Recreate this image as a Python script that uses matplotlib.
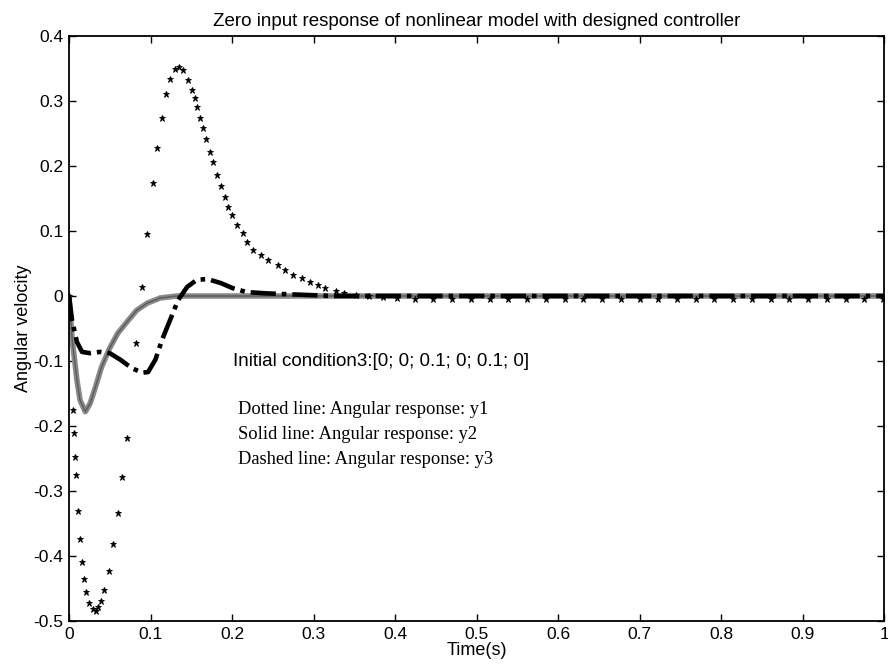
import matplotlib
matplotlib.use("Agg")
import matplotlib.pyplot as plt

# y1: dotted (star markers)
t1 = [0.0, 0.005, 0.006, 0.0074, 0.0086, 0.011, 0.0135, 0.016, 0.018, 0.021,
      0.0246, 0.029, 0.033, 0.036, 0.039, 0.043, 0.049, 0.054, 0.060, 0.065,
      0.071, 0.082, 0.090, 0.096, 0.103, 0.108, 0.114, 0.119, 0.124, 0.130,
      0.135, 0.140, 0.146, 0.151, 0.155, 0.157, 0.161, 0.165, 0.168, 0.173,
      0.177, 0.182, 0.187, 0.192, 0.195, 0.200, 0.206, 0.213, 0.219, 0.226,
      0.235, 0.244, 0.256, 0.265, 0.275, 0.286, 0.296, 0.305, 0.314, 0.327,
      0.337, 0.352, 0.368, 0.385, 0.402, 0.425, 0.447, 0.470, 0.493, 0.516,
      0.539, 0.562, 0.585, 0.608, 0.631, 0.654, 0.677, 0.700, 0.723, 0.746,
      0.769, 0.792, 0.815, 0.838, 0.861, 0.884, 0.907, 0.930, 0.953, 0.976,
      0.999]
y1 = [0.0, -0.175, -0.211, -0.248, -0.275, -0.331, -0.374, -0.409, -0.435, -0.455,
      -0.472, -0.482, -0.485, -0.478, -0.469, -0.452, -0.423, -0.382, -0.334, -0.278,
      -0.218, -0.072, 0.014, 0.095, 0.174, 0.228, 0.274, 0.311, 0.334, 0.349,
      0.352, 0.348, 0.332, 0.317, 0.305, 0.291, 0.274, 0.258, 0.242, 0.222,
      0.206, 0.186, 0.169, 0.152, 0.137, 0.125, 0.109, 0.097, 0.083, 0.071,
      0.063, 0.055, 0.048, 0.040, 0.032, 0.028, 0.022, 0.017, 0.012, 0.008,
      0.005, 0.002, 0.0, -0.002, -0.003, -0.004, -0.004, -0.004, -0.004, -0.004,
      -0.004, -0.004, -0.004, -0.004, -0.004, -0.004, -0.004, -0.004, -0.004, -0.004,
      -0.004, -0.004, -0.004, -0.004, -0.004, -0.004, -0.004, -0.004, -0.004, -0.004,
      -0.004]

# y2: solid
t2 = [0.0, 0.004, 0.0098, 0.0135, 0.020, 0.026, 0.032, 0.040, 0.050, 0.060,
      0.071, 0.083, 0.096, 0.112, 0.132, 0.2, 0.5, 1.0]
y2 = [0.0, -0.068, -0.130, -0.160, -0.178, -0.165, -0.142, -0.109, -0.080, -0.057,
      -0.040, -0.022, -0.011, -0.003, 0.0, 0.0, 0.0, 0.0]

# y3: dashed
t3 = [0.0, 0.0037, 0.0098, 0.016, 0.026, 0.038, 0.050, 0.063, 0.077, 0.090,
      0.097, 0.106, 0.114, 0.124, 0.134, 0.145, 0.157, 0.170, 0.186, 0.201,
      0.218, 0.243, 0.284, 0.324, 0.5, 1.0]
y3 = [0.0, -0.037, -0.071, -0.086, -0.088, -0.086, -0.088, -0.098, -0.111, -0.118,
      -0.117, -0.098, -0.068, -0.037, -0.006, 0.014, 0.025, 0.026, 0.020, 0.012,
      0.006, 0.004, 0.002, 0.0, 0.0, 0.0]

xticks = [0, 0.1, 0.2, 0.3, 0.4, 0.5, 0.6, 0.7, 0.8, 0.9, 1]
xticklabels = ["0", "0.1", "0.2", "0.3", "0.4", "0.5", "0.6", "0.7", "0.8", "0.9", "1"]
yticks = [-0.5, -0.4, -0.3, -0.2, -0.1, 0, 0.1, 0.2, 0.3, 0.4]
yticklabels = ["-0.5", "-0.4", "-0.3", "-0.2", "-0.1", "0", "0.1", "0.2", "0.3", "0.4"]

notes = ["Dotted line: Angular response: y1",
         "Solid line: Angular response: y2",
         "Dashed line: Angular response: y3"]

plt.rcParams["font.family"] = "Liberation Sans"

fig = plt.figure(figsize=(8.88, 6.70), dpi=100)
ax = fig.add_axes([69 / 888, 49 / 670, 815 / 888, 585 / 670])

ax.plot(t2, y2, color="#8a8a8a", linewidth=4, solid_capstyle="round", zorder=2)
ax.plot(t2, y2, color="#5a5a5a", linewidth=1, zorder=2)
ax.plot(t3, y3, color="black", linewidth=3.3, linestyle=(0, (5.5, 1.3, 1, 1.3)), zorder=3)
ax.plot(t1, y1, linestyle="none", marker="*", markersize=5, color="black",
        markeredgewidth=0.6, zorder=4)

ax.set_xlim(0, 1)
ax.set_ylim(-0.5, 0.4)
ax.set_xticks(xticks)
ax.set_xticklabels(xticklabels)
ax.set_yticks(yticks)
ax.set_yticklabels(yticklabels)
ax.tick_params(direction="in", top=True, right=True, length=5, width=1,
               labelsize=12.5, pad=4)
for s in ax.spines.values():
    s.set_linewidth(1.3)

ax.set_title("Zero input response of nonlinear model with designed controller",
             fontsize=13.5, pad=7)
ax.set_xlabel("Time(s)", fontsize=13, labelpad=0)
ax.set_ylabel("Angular velocity", fontsize=13, labelpad=1)

ax.text(0.2015, -0.10, "Initial condition3:[0; 0; 0.1; 0; 0.1; 0]", fontsize=13.5,
        va="center", ha="left")
for i, s in enumerate(notes):
    ax.text(0.2075, -0.175 - 0.0385 * i, s, fontsize=13.3, family="Liberation Serif",
            va="center", ha="left")

fig.savefig("out.png", dpi=100)
